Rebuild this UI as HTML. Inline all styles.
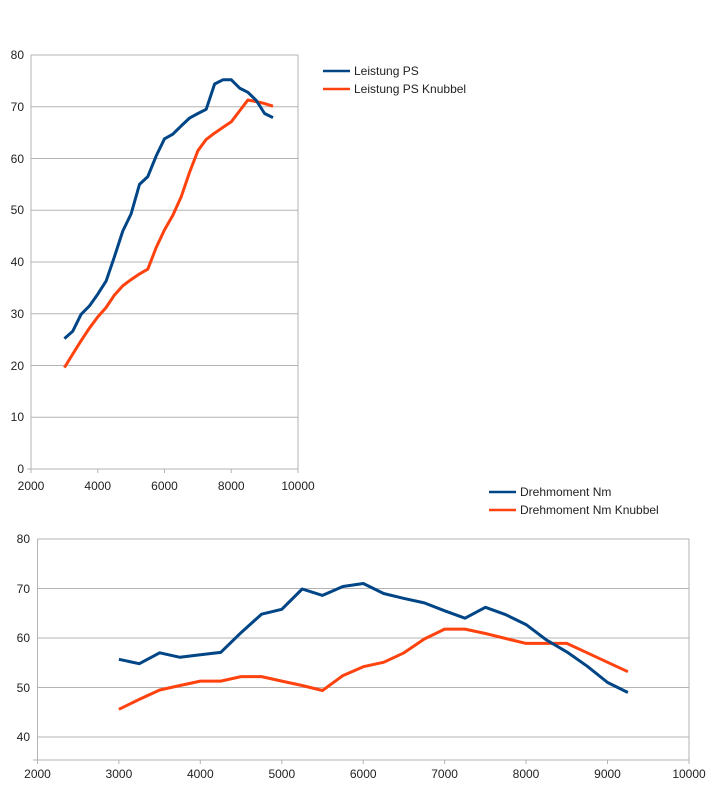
<!DOCTYPE html>
<html><head><meta charset="utf-8"><style>
html,body{margin:0;padding:0;background:#fff}
svg{display:block}
text{font-family:"Liberation Sans",sans-serif;font-size:12px;fill:#222}
</style></head><body>
<svg id="s" width="718" height="800" viewBox="0 0 718 800">
<g stroke="#b3b3b3" stroke-width="1" fill="none">
<line x1="31" y1="55" x2="298" y2="55"/><line x1="31" y1="106.75" x2="298" y2="106.75"/><line x1="31" y1="158.5" x2="298" y2="158.5"/><line x1="31" y1="210.25" x2="298" y2="210.25"/><line x1="31" y1="262" x2="298" y2="262"/><line x1="31" y1="313.75" x2="298" y2="313.75"/><line x1="31" y1="365.5" x2="298" y2="365.5"/><line x1="31" y1="417.25" x2="298" y2="417.25"/><line x1="27" y1="469" x2="298" y2="469"/>
<line x1="31" y1="55" x2="31" y2="473"/><line x1="298" y1="55" x2="298" y2="473"/>
<line x1="97.75" y1="469" x2="97.75" y2="473"/><line x1="164.5" y1="469" x2="164.5" y2="473"/><line x1="231.25" y1="469" x2="231.25" y2="473"/>
<line x1="37.5" y1="539" x2="689" y2="539"/><line x1="37.5" y1="588.5" x2="689" y2="588.5"/><line x1="37.5" y1="638" x2="689" y2="638"/><line x1="37.5" y1="687.5" x2="689" y2="687.5"/><line x1="37.5" y1="737" x2="689" y2="737"/><line x1="33" y1="760" x2="689" y2="760"/>
<line x1="37.5" y1="539" x2="37.5" y2="764"/><line x1="689" y1="539" x2="689" y2="764"/>
<line x1="118.9" y1="760" x2="118.9" y2="764"/><line x1="200.3" y1="760" x2="200.3" y2="764"/><line x1="281.8" y1="760" x2="281.8" y2="764"/><line x1="363.2" y1="760" x2="363.2" y2="764"/><line x1="444.6" y1="760" x2="444.6" y2="764"/><line x1="526" y1="760" x2="526" y2="764"/><line x1="607.5" y1="760" x2="607.5" y2="764"/>
</g>
<g text-anchor="end">
<text x="24" y="59">80</text><text x="24" y="111">70</text><text x="24" y="163">60</text><text x="24" y="214">50</text><text x="24" y="266">40</text><text x="24" y="318">30</text><text x="24" y="370">20</text><text x="24" y="421">10</text><text x="24" y="473">0</text>
<text x="30" y="543">80</text><text x="30" y="593">70</text><text x="30" y="642">60</text><text x="30" y="692">50</text><text x="30" y="741">40</text>
</g>
<g text-anchor="middle">
<text x="31" y="490">2000</text><text x="97.75" y="490">4000</text><text x="164.5" y="490">6000</text><text x="231.25" y="490">8000</text><text x="298" y="490">10000</text>
<text x="37.5" y="778">2000</text><text x="118.9" y="778">3000</text><text x="200.3" y="778">4000</text><text x="281.8" y="778">5000</text><text x="363.2" y="778">6000</text><text x="444.6" y="778">7000</text><text x="526" y="778">8000</text><text x="607.5" y="778">9000</text><text x="689" y="778">10000</text>
</g>
<line x1="323" y1="71" x2="350" y2="71" stroke="#004586" stroke-width="2.5"/>
<line x1="323" y1="89" x2="350" y2="89" stroke="#ff420e" stroke-width="2.5"/>
<text x="354" y="75">Leistung PS</text><text x="354" y="93">Leistung PS Knubbel</text>
<line x1="489" y1="492" x2="516" y2="492" stroke="#004586" stroke-width="2.5"/>
<line x1="489" y1="510" x2="516" y2="510" stroke="#ff420e" stroke-width="2.5"/>
<text x="520" y="496">Drehmoment Nm</text><text x="520" y="514">Drehmoment Nm Knubbel</text>
<g id="lines" fill="none" stroke-width="3" stroke-linejoin="round"></g>
</svg>
<script>
var b1=[25.2,26.6,29.9,31.5,33.8,36.3,41,46,49.3,55,56.5,60.5,63.8,64.7,66.3,67.8,68.7,69.5,74.4,75.2,75.2,73.6,72.8,71.2,68.7,67.9];
var o1=[19.6,22.2,24.8,27.2,29.4,31.2,33.6,35.4,36.6,37.7,38.6,42.8,46.2,49,52.6,57.3,61.5,63.7,64.9,66,67.1,69.2,71.3,71,70.6,70.1];
var b2=[55.7,54.8,57,56.1,56.6,57.1,61.1,64.8,65.8,69.9,68.6,70.4,71,69,68,67.1,65.5,64,66.2,64.7,62.7,59.6,57.2,54.3,51,49];
var o2=[45.6,47.6,49.5,50.4,51.3,51.3,52.2,52.2,51.3,50.4,49.4,52.4,54.2,55.1,57,59.8,61.8,61.8,60.9,59.9,58.9,58.9,58.9,57,55.1,53.2];
function pl(d,x0,xs,y0,ys,c){var p=d.map(function(v,i){var r=3000+250*i;return (x0+(r-2000)*xs).toFixed(1)+","+(y0-v*ys).toFixed(1)}).join(" ");
var e=document.createElementNS("http://www.w3.org/2000/svg","polyline");e.setAttribute("points",p);e.setAttribute("stroke",c);document.getElementById("lines").appendChild(e);}
pl(o1,31,267/8000,469,5.175,"#ff420e");pl(b1,31,267/8000,469,5.175,"#004586");
pl(o2,37.5,651.5/8000,539+80*4.95,4.95,"#ff420e");pl(b2,37.5,651.5/8000,539+80*4.95,4.95,"#004586");
</script>
</body></html>
